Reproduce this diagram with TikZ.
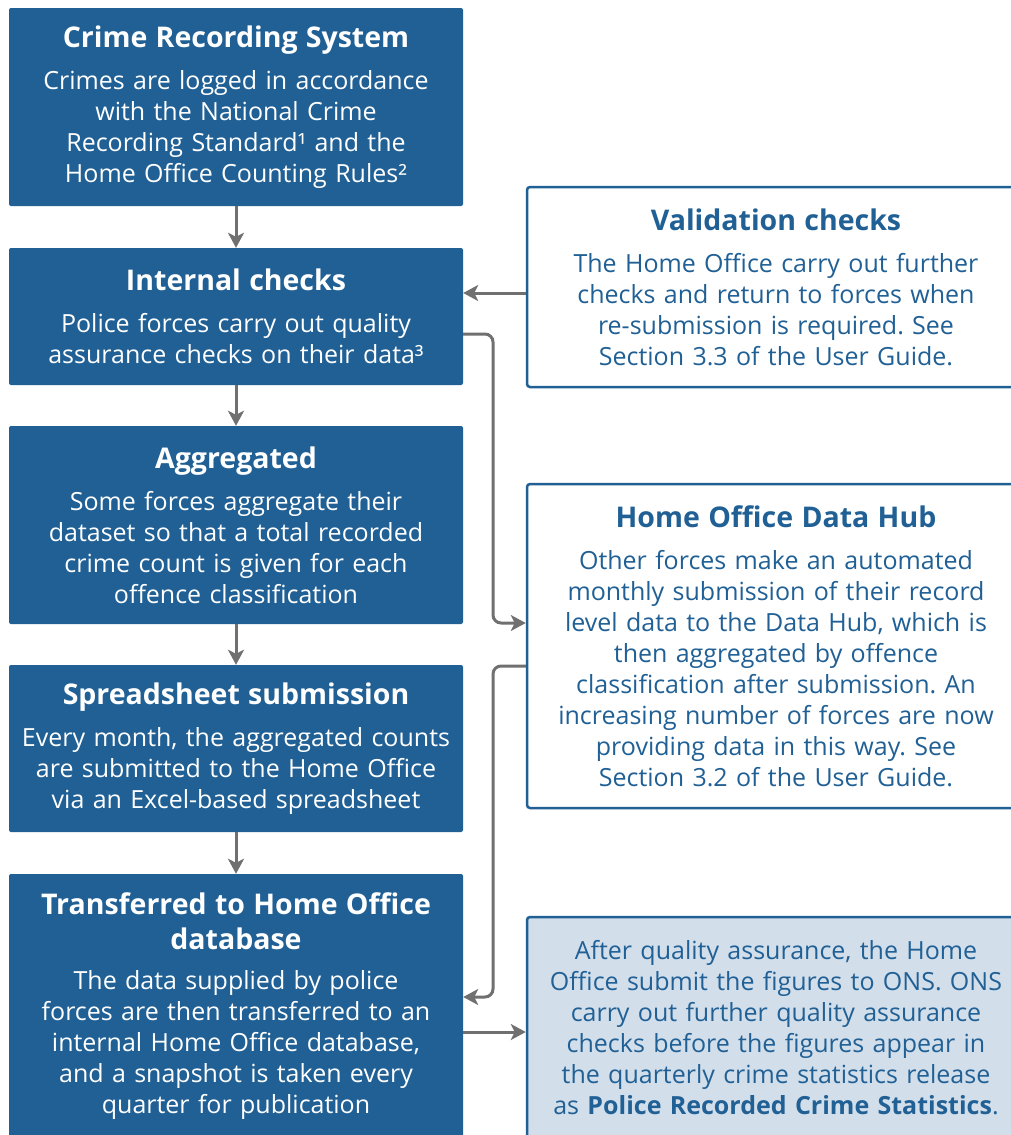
\documentclass[tikz,border=0pt]{standalone}
\usepackage{fontspec}
\setmainfont{Open Sans}
\usetikzlibrary{arrows.meta}
\definecolor{onsblue}{RGB}{32,96,149}
\definecolor{onslight}{RGB}{210,222,234}
\definecolor{arrgray}{RGB}{112,112,112}
\newcommand{\ttl}[1]{{\fontsize{28.5}{31}\selectfont\bfseries #1}}
\frenchspacing
\tikzset{
  leftbox/.style={fill=onsblue, rounded corners=2pt, text=white, align=center,
    inner sep=0pt, text width=446pt, minimum width=454pt,
    font=\fontsize{25}{31}\selectfont},
  rightbox/.style={draw=onsblue, line width=2.5pt, fill=white, rounded corners=3pt,
    text=onsblue, align=center, inner sep=0pt, text width=480pt, minimum width=498pt,
    font=\fontsize{25}{31}\selectfont},
  onsbox/.style={rightbox, fill=onslight},
  arr/.style={draw=arrgray, line width=3pt, rounded corners=8pt,
    -{Stealth[length=15pt,width=16pt,inset=4pt]}},
}
\begin{document}
\begin{tikzpicture}[x=1pt,y=-1pt]
\path[use as bounding box, clip] (0,0) rectangle (1011,1135);

\node[leftbox, minimum height=198pt] (b1) at (236,107)
  {\ttl{Crime Recording System}\\[11pt]
   Crimes are logged in accordance\\
   with the National Crime\\
   Recording Standard¹ and the\\
   Home Office Counting Rules²};
\node[leftbox, minimum height=137pt] (b2) at (236,316.5)
  {\ttl{Internal checks}\\[11pt]
   Police forces carry out quality\\
   assurance checks on their data³};
\node[leftbox, minimum height=198pt] (b3) at (236,525)
  {\ttl{Aggregated}\\[11pt]
   Some forces aggregate their\\
   dataset so that a total recorded\\
   crime count is given for each\\
   offence classification};
\node[leftbox, minimum height=167pt] (b4) at (236,748.5)
  {\ttl{Spreadsheet submission}\\[11pt]
   Every month, the aggregated counts\\
   are submitted to the Home Office\\
   via an Excel-based spreadsheet};
\node[leftbox, minimum height=264pt] (b5) at (236,1006)
  {\ttl{Transferred to Home Office}\\[4pt]
   \ttl{database}\\[9pt]
   The data supplied by police\\
   forces are then transferred to an\\
   internal Home Office database,\\
   and a snapshot is taken every\\
   quarter for publication};

\node[rightbox, minimum height=200pt] (v) at (776,287)
  {\ttl{Validation checks}\\[11pt]
   The Home Office carry out further\\
   checks and return to forces when\\
   re-submission is required. See\\
   Section 3.3 of the User Guide.};
\node[rightbox, minimum height=324pt] (h) at (776,646)
  {\ttl{Home Office Data Hub}\\[11pt]
   Other forces make an automated\\
   monthly submission of their record\\
   level data to the Data Hub, which is\\
   then aggregated by offence\\
   classification after submission. An\\
   increasing number of forces are now\\
   providing data in this way. See\\
   Section 3.2 of the User Guide.};
\node[onsbox, minimum height=222pt] (o) at (776,1028)
  {After quality assurance, the Home\\
   Office submit the figures to ONS. ONS\\
   carry out further quality assurance\\
   checks before the figures appear in\\
   the quarterly crime statistics release\\
   as \textbf{Police Recorded Crime Statistics}.};

\coordinate (y1) at (0,293);
\coordinate (y2) at (0,334);
\coordinate (y3) at (0,623);
\coordinate (y4) at (0,666);
\coordinate (y5) at (0,997);
\coordinate (y6) at (0,1032);
\coordinate (xm) at (493,0);

\draw[arr] (b1) -- (b2);
\draw[arr] (b2) -- (b3);
\draw[arr] (b3) -- (b4);
\draw[arr] (b4) -- (b5);
\draw[arr] (v.west |- y1) -- (b2.east |- y1);
\draw[arr] (b2.east |- y2) -- (xm |- y2) -- (xm |- y3) -- (h.west |- y3);
\draw[arr] (h.west |- y4) -- (xm |- y4) -- (xm |- y5) -- (b5.east |- y5);
\draw[arr] (b5.east |- y6) -- (o.west |- y6);
\end{tikzpicture}
\end{document}
